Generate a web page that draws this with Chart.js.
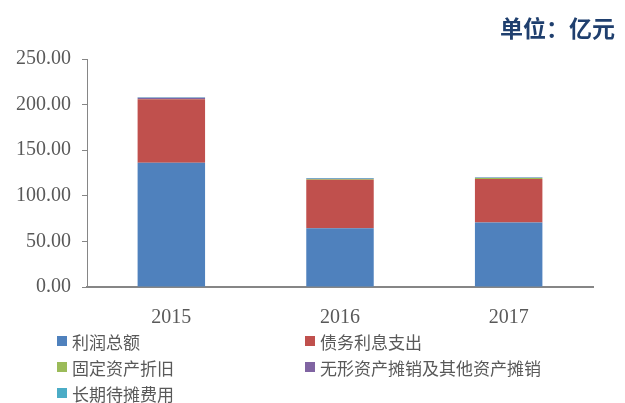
<!DOCTYPE html>
<html>
<head>
<meta charset="utf-8">
<script src="https://cdn.jsdelivr.net/npm/chart.js@4"></script>
<style>
  body { margin: 0; background: #fff; }
  #wrap { position: relative; width: 625px; height: 403px; }
  #unit {
    position: absolute; right: 10px; top: 10px;
    font: bold 23px "Noto Sans CJK SC", sans-serif; color: #1F3F6E;
  }
  #legend {
    position: absolute; left: 57px; top: 328px;
    display: grid; grid-template-columns: 248px 300px; grid-auto-rows: 26px;
    font: 17px "Noto Sans CJK SC", sans-serif; color: #595959;
  }
  #legend div { display: flex; align-items: center; white-space: nowrap; }
  #legend span { display: inline-block; width: 10px; height: 10px; margin-right: 5px; }
</style>
</head>
<body>
<div id="wrap">
  <canvas id="profitChart" width="625" height="403"></canvas>
  <div id="unit">单位：亿元</div>
  <div id="legend"></div>
</div>
<script>
// data (亿元)
const years = ['2015', '2016', '2017'];
const profit = [136.3, 64.4, 70.7];        // 利润总额
const interest = [69.6, 53.2, 47.6];       // 债务利息支出
const depreciation = [0.3, 0.8, 1.2];      // 固定资产折旧
const amortization = [1.2, 0.2, 0.2];      // 无形资产摊销及其他资产摊销
const deferred = [0.6, 0.8, 0.6];          // 长期待摊费用
const yTicks = [0, 50, 100, 150, 200, 250];

const seriesNames = ['利润总额', '债务利息支出', '固定资产折旧', '无形资产摊销及其他资产摊销', '长期待摊费用'];
const seriesData = [profit, interest, depreciation, amortization, deferred];
const seriesColors = ['#4F81BD', '#C0504D', '#9BBB59', '#8064A2', '#4BACC6'];

const ctx = document.getElementById('profitChart').getContext('2d');
const profitChart = new Chart(ctx, {
    type: 'bar',
    data: {
        labels: years,
        datasets: seriesNames.map((name, i) => ({
            label: name,
            data: seriesData[i],
            backgroundColor: seriesColors[i],
            borderWidth: 0,
            categoryPercentage: 1,
            barPercentage: 0.4
        }))
    },
    options: {
        responsive: false,
        animation: false,
        layout: { padding: { top: 59, right: 32, bottom: 76, left: 0 } },
        plugins: {
            legend: { display: false },
            tooltip: { enabled: false }
        },
        scales: {
            x: {
                stacked: true,
                grid: { display: false },
                border: { color: '#868686', width: 2 },
                ticks: {
                    padding: 11,
                    color: '#595959',
                    font: { family: 'Liberation Serif', size: 20 }
                },
                afterFit: (s) => { s.height = 40; }
            },
            y: {
                stacked: true,
                min: 0,
                max: 250,
                afterBuildTicks: (s) => { s.ticks = yTicks.map(v => ({ value: v })); },
                grid: { drawOnChartArea: false, tickLength: 5, color: '#868686' },
                border: { color: '#868686', width: 1 },
                ticks: {
                    padding: 11,
                    color: '#595959',
                    font: { family: 'Liberation Serif', size: 20 },
                    callback: (v) => Number(v).toFixed(2)
                },
                afterFit: (s) => { s.width = 87; }
            }
        }
    }
});

// legend in two columns, like the original
const legendBox = document.getElementById('legend');
profitChart.data.datasets.forEach(ds => {
    const item = document.createElement('div');
    item.innerHTML = '<span style="background:' + ds.backgroundColor + '"></span>' + ds.label;
    legendBox.appendChild(item);
});
</script>
</body>
</html>
